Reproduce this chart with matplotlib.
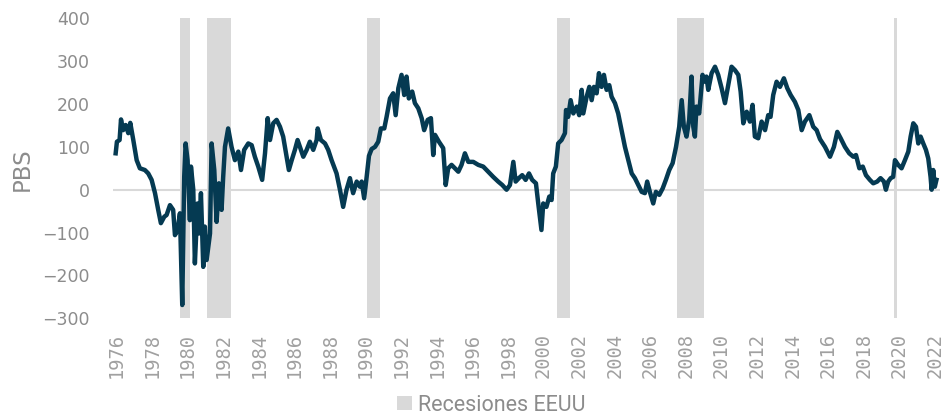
import matplotlib
matplotlib.use("Agg")
import matplotlib.pyplot as plt
from matplotlib.patches import Patch

# ---- data (decimal years, spread in basis points) ----
fechas = [
    1976.39, 1976.46, 1976.61, 1976.69, 1976.81, 1976.95, 1977.10, 1977.21, 1977.38, 1977.57,
    1977.75, 1978.03, 1978.22, 1978.41, 1978.60, 1978.78, 1978.93, 1979.12, 1979.25, 1979.44,
    1979.62, 1979.72, 1979.87, 1980.00, 1980.13, 1980.24, 1980.32, 1980.43, 1980.56, 1980.62,
    1980.75, 1980.84, 1980.99, 1981.08, 1981.18, 1981.31, 1981.40, 1981.50, 1981.69, 1981.78,
    1981.93, 1982.06, 1982.19, 1982.34, 1982.43, 1982.53, 1982.71, 1982.90, 1983.09, 1983.28,
    1983.43, 1983.61, 1983.84, 1984.03, 1984.21, 1984.40, 1984.62, 1984.78, 1984.93, 1985.06,
    1985.24, 1985.43, 1985.62, 1985.80, 1985.99, 1986.12, 1986.28, 1986.46, 1986.61, 1986.74,
    1986.93, 1987.12, 1987.30, 1987.49, 1987.68, 1987.74, 1987.92, 1988.15, 1988.33, 1988.52,
    1988.80, 1988.99, 1989.17, 1989.36, 1989.55, 1989.73, 1989.93, 1990.11, 1990.21, 1990.35,
    1990.49, 1990.62, 1990.77, 1990.96, 1991.14, 1991.29, 1991.48, 1991.61, 1991.80, 1991.98,
    1992.12, 1992.27, 1992.45, 1992.60, 1992.73, 1992.86, 1993.05, 1993.20, 1993.39, 1993.58,
    1993.72, 1993.92, 1994.10, 1994.23, 1994.33, 1994.55, 1994.79, 1994.93, 1995.07, 1995.26,
    1995.45, 1995.64, 1995.82, 1996.01, 1996.20, 1996.48, 1996.76, 1997.04, 1997.32, 1997.60,
    1997.88, 1998.11, 1998.35, 1998.54, 1998.73, 1998.86, 1999.04, 1999.23, 1999.42, 1999.61,
    1999.79, 2000.00, 2000.13, 2000.31, 2000.41, 2000.59, 2000.75, 2000.88, 2000.97, 2001.12,
    2001.25, 2001.44, 2001.63, 2001.69, 2001.81, 2001.95, 2002.10, 2002.29, 2002.43, 2002.57,
    2002.66, 2002.85, 2003.00, 2003.13, 2003.26, 2003.41, 2003.54, 2003.69, 2003.82, 2003.97,
    2004.12, 2004.25, 2004.44, 2004.62, 2004.81, 2005.00, 2005.19, 2005.38, 2005.56, 2005.75,
    2005.94, 2006.12, 2006.25, 2006.40, 2006.59, 2006.74, 2006.93, 2007.12, 2007.30, 2007.49,
    2007.68, 2007.87, 2008.05, 2008.19, 2008.31, 2008.46, 2008.61, 2008.74, 2008.84, 2008.93,
    2009.02, 2009.17, 2009.36, 2009.49, 2009.58, 2009.68, 2009.87, 2010.06, 2010.24, 2010.43,
    2010.62, 2010.80, 2010.99, 2011.18, 2011.37, 2011.50, 2011.65, 2011.84, 2012.02, 2012.17,
    2012.30, 2012.49, 2012.68, 2012.87, 2013.05, 2013.18, 2013.33, 2013.52, 2013.71, 2013.93,
    2014.12, 2014.31, 2014.55, 2014.74, 2014.93, 2015.11, 2015.36, 2015.58, 2015.77, 2015.96,
    2016.24, 2016.52, 2016.74, 2016.93, 2017.12, 2017.36, 2017.60, 2017.83, 2017.98, 2018.17,
    2018.36, 2018.54, 2018.76, 2018.95, 2019.17, 2019.36, 2019.55, 2019.66, 2019.79, 2019.93,
    2020.07, 2020.17, 2020.35, 2020.54, 2020.73, 2020.92, 2021.05, 2021.20, 2021.35, 2021.48,
    2021.61, 2021.76, 2021.91, 2022.04, 2022.17, 2022.23, 2022.32, 2022.41, 2022.50,
]
pbs = [
    85, 112, 116, 164, 139, 151, 132, 156, 116, 69,
    50, 46, 38, 23, -8, -47, -78, -63, -59, -36,
    -47, -106, -94, -55, -269, 30, 108, 69, -71, 54,
    0, -172, -32, -102, -8, -180, -86, -164, -102, 108,
    46, -75, 15, -47, 30, 100, 143, 100, 69, 89,
    46, 93, 108, 104, 77, 54, 23, 85, 167, 116,
    155, 163, 147, 124, 77, 46, 69, 93, 116, 100,
    77, 93, 112, 93, 116, 143, 116, 108, 93, 69,
    38, 0, -40, 0, 27, -8, 19, 7, 19, -20,
    30, 79, 95, 100, 112, 143, 143, 170, 213, 225,
    174, 237, 268, 221, 264, 213, 229, 202, 190, 167,
    139, 163, 167, 81, 128, 112, 97, 11, 50, 58,
    50, 42, 58, 85, 65, 65, 58, 54, 42, 30,
    19, 11, 0, 11, 65, 19, 27, 34, 23, 38,
    23, 15, -32, -94, -32, -40, -16, -24, 38, 54,
    108, 116, 132, 186, 170, 209, 178, 194, 174, 233,
    178, 217, 240, 209, 240, 225, 272, 240, 268, 233,
    244, 217, 202, 178, 139, 100, 69, 38, 27, 11,
    -5, -8, 19, -5, -32, -5, -12, 3, 23, 46,
    62, 100, 147, 209, 147, 124, 163, 264, 147, 124,
    194, 178, 268, 252, 264, 233, 272, 287, 268, 237,
    202, 244, 287, 279, 268, 229, 155, 182, 159, 198,
    124, 120, 159, 139, 174, 170, 221, 252, 240, 260,
    237, 221, 205, 186, 139, 159, 174, 147, 139, 118,
    100, 77, 100, 135, 120, 100, 85, 77, 81, 50,
    54, 34, 23, 15, 19, 27, 19, 0, 19, 27,
    30, 69, 58, 50, 69, 89, 124, 155, 147, 108,
    124, 108, 93, 73, 30, 0, 46, 7, 23,
]

rec_inicio = [1980.00, 1981.52, 1990.50, 2001.20, 2007.93, 2020.10]
rec_fin = [1980.56, 1982.87, 1991.24, 2001.89, 2009.43, 2020.30]

anios = list(range(1976, 2023, 2))
etiquetas = [str(a) for a in anios]

# ---- figure ----
W, H = 949, 416
fig = plt.figure(figsize=(W / 100, H / 100), dpi=100)
left, right, top, bottom = 113, 940, 18.3, 318.3
ax = fig.add_axes([left / W, 1 - bottom / H, (right - left) / W, (bottom - top) / H])

for a, b in zip(rec_inicio, rec_fin):
    ax.axvspan(a, b, color="#d9d9d9", lw=0, zorder=0)

ax.axhline(0, color="#d9d9d9", lw=1.5, zorder=1)
ax.plot(fechas, pbs, color="#053a52", lw=3.2, solid_joinstyle="round", zorder=3)

ax.set_xlim(1976.24, 2022.70)
ax.set_ylim(-300, 400)

for s in ax.spines.values():
    s.set_visible(False)

ax.set_yticks(range(-300, 401, 100))
ax.tick_params(axis="y", length=0, pad=16.5, labelsize=12.5, labelcolor="#8c8c8c")
for lab in ax.get_yticklabels():
    lab.set_fontfamily("DejaVu Sans")

ax.set_xticks([a + 0.43 for a in anios])
ax.set_xticklabels(etiquetas, rotation=90, fontfamily="DejaVu Sans Mono",
                   fontsize=13.5, color="#a0a0a0")
ax.tick_params(axis="x", length=0, pad=10.5)

fig.text(22.5 / W, 1 - 169 / H, "PBS", rotation=90, ha="center", va="center",
         fontsize=16.5, color="#8c8c8c", fontfamily="DejaVu Sans")

fig.legend(handles=[Patch(facecolor="#d9d9d9", edgecolor="none")],
           labels=["Recesiones EEUU"], loc="lower left",
           bbox_to_anchor=(397 / W, 0.0), frameon=False,
           prop={"family": "Roboto", "size": 15.5},
           labelcolor="#8c8c8c", handlelength=0.7, handleheight=0.62,
           handletextpad=0.27, borderpad=0, borderaxespad=0)

fig.savefig("out.png", dpi=100)
